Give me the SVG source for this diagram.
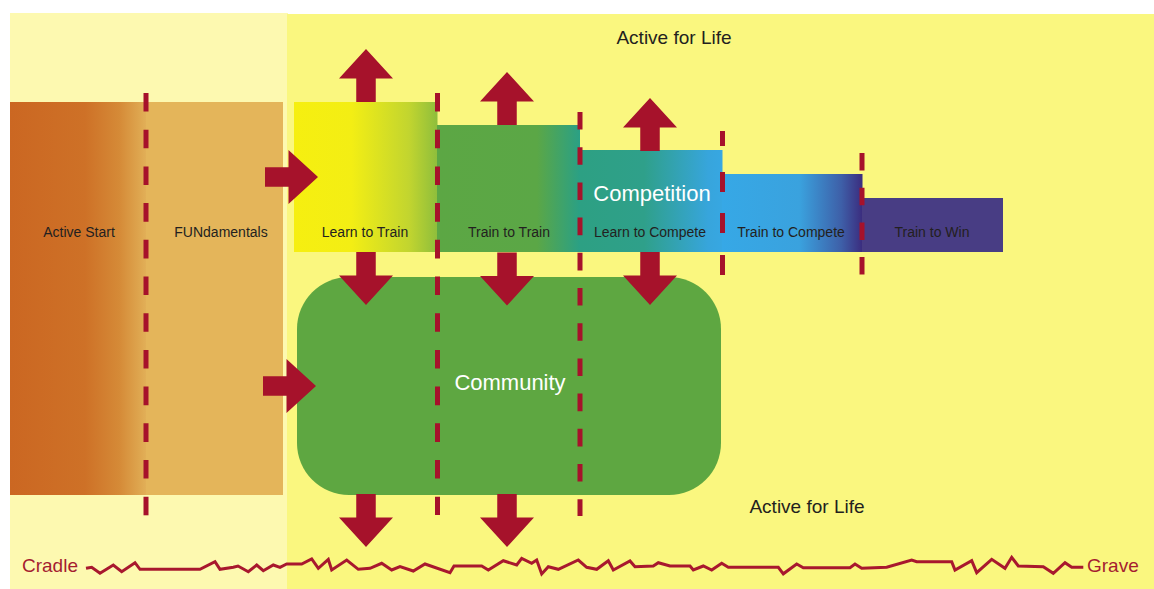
<svg xmlns="http://www.w3.org/2000/svg" xmlns:xlink="http://www.w3.org/1999/xlink" width="1154" height="589" viewBox="0 0 1154 589">
<style>
.lbl{font-family:"Liberation Sans",Arial,sans-serif;font-size:14px;fill:#231F20;text-anchor:middle}
.big{font-family:"Liberation Sans",Arial,sans-serif;font-size:22px;fill:#FFFFFF;text-anchor:middle}
.afl{font-family:"Liberation Sans",Arial,sans-serif;font-size:19px;fill:#231F20;text-anchor:middle}
.cg{font-family:"Liberation Sans",Arial,sans-serif;font-size:19px;fill:#A51C30}
.arrow{fill:#A6122B}
.dash{fill:#A6122B}
.wave{fill:none;stroke:#A8182E;stroke-width:3;stroke-linejoin:miter}
</style>
<defs>
<linearGradient id="gAS" x1="0" x2="1" y1="0" y2="0">
<stop offset="0" stop-color="#CB6722"/>
<stop offset="0.55" stop-color="#CE7127"/>
<stop offset="0.8" stop-color="#D58A37"/>
<stop offset="0.95" stop-color="#DEA64F"/>
<stop offset="1" stop-color="#E2B058"/>
</linearGradient>
<linearGradient id="gLT" x1="0" x2="1" y1="0" y2="0">
<stop offset="0" stop-color="#F6EF10"/>
<stop offset="0.4" stop-color="#F3EE14"/>
<stop offset="0.8" stop-color="#C2D52F"/>
<stop offset="1" stop-color="#8EBE3C"/>
</linearGradient>
<linearGradient id="gTT" x1="0" x2="1" y1="0" y2="0">
<stop offset="0" stop-color="#5CA744"/>
<stop offset="0.7" stop-color="#5BA746"/>
<stop offset="1" stop-color="#2AA085"/>
</linearGradient>
<linearGradient id="gLC" x1="0" x2="1" y1="0" y2="0">
<stop offset="0" stop-color="#2DA083"/>
<stop offset="0.45" stop-color="#2FA08A"/>
<stop offset="0.9" stop-color="#37A5DC"/>
<stop offset="1" stop-color="#37A7E2"/>
</linearGradient>
<linearGradient id="gTC" x1="0" x2="1" y1="0" y2="0">
<stop offset="0" stop-color="#36A8E6"/>
<stop offset="0.55" stop-color="#3AA2DE"/>
<stop offset="0.85" stop-color="#3E5FA8"/>
<stop offset="1" stop-color="#3B2C7E"/>
</linearGradient>
<path id="arr" d="M0,0 L27,29.5 L9.75,29.5 L9.75,53 L-9.75,53 L-9.75,29.5 L-27,29.5 Z"/>
</defs>

<rect x="0" y="0" width="1154" height="589" fill="#FFFFFF"/>
<rect x="10" y="13" width="278" height="576" fill="#FDF9B0"/>
<rect x="287" y="14" width="867" height="575" fill="#FAF77F"/>

<g id="active-start"><rect x="10" y="102" width="136.5" height="393" fill="url(#gAS)"/><text class="lbl" x="79" y="237">Active Start</text></g>
<g id="fundamentals"><rect x="146" y="102" width="137" height="393" fill="#E4B55A"/><text class="lbl" x="221" y="237">FUNdamentals</text></g>
<g id="learn-to-train"><rect x="294" y="102" width="143.5" height="150" fill="url(#gLT)"/><text class="lbl" x="365" y="237">Learn to Train</text></g>
<g id="train-to-train"><rect x="437" y="125" width="143" height="127" fill="url(#gTT)"/><text class="lbl" x="509" y="237">Train to Train</text></g>
<g id="learn-to-compete"><rect x="580" y="150" width="142.5" height="102" fill="url(#gLC)"/><text class="lbl" x="650" y="237">Learn to Compete</text></g>
<g id="train-to-compete"><rect x="722" y="174" width="140.5" height="78" fill="url(#gTC)"/><text class="lbl" x="791" y="237">Train to Compete</text></g>
<g id="train-to-win"><rect x="862" y="198" width="141" height="54" fill="#483D84"/><text class="lbl" x="932" y="237">Train to Win</text></g>
<g id="competition"><text class="big" x="652" y="200.5">Competition</text></g>
<g id="community"><rect x="297" y="277" width="424" height="218" rx="52" ry="52" fill="#5EA741"/><text class="big" x="510" y="390">Community</text></g>
<g id="active-for-life-top"><text class="afl" x="674" y="44">Active for Life</text></g>
<g id="active-for-life-bottom"><text class="afl" x="807" y="513">Active for Life</text></g>

<g id="dividers">
<line x1="146" y1="93" x2="146" y2="517" stroke="#A6122B" stroke-width="5" stroke-dasharray="18.6 18.1"/>
<line x1="437.5" y1="93" x2="437.5" y2="515" stroke="#A6122B" stroke-width="5" stroke-dasharray="18.6 18.1"/>
<line x1="580" y1="112" x2="580" y2="516" stroke="#A6122B" stroke-width="5" stroke-dasharray="17.6 17.6"/>
<rect class="dash" x="720" y="131" width="5" height="15"/>
<rect class="dash" x="720" y="172" width="5" height="20"/>
<rect class="dash" x="720" y="213" width="5" height="20"/>
<rect class="dash" x="720" y="255" width="5" height="20"/>
<line x1="862" y1="153" x2="862" y2="275" stroke="#A6122B" stroke-width="5" stroke-dasharray="17.5 17.2"/>
</g>

<g id="connectors">
<use href="#arr" class="arrow" transform="translate(366,49)"/>
<use href="#arr" class="arrow" transform="translate(507,72)"/>
<use href="#arr" class="arrow" transform="translate(650,98)"/>
<use href="#arr" class="arrow" transform="translate(318,177) rotate(90)"/>
<use href="#arr" class="arrow" transform="translate(316,386) rotate(90)"/>
<use href="#arr" class="arrow" transform="translate(366,305) rotate(180)"/>
<use href="#arr" class="arrow" transform="translate(507,305.5) rotate(180)"/>
<use href="#arr" class="arrow" transform="translate(650,305) rotate(180)"/>
<use href="#arr" class="arrow" transform="translate(366,547) rotate(180)"/>
<use href="#arr" class="arrow" transform="translate(507,547) rotate(180)"/>
</g>

<g id="lifeline">
<polyline class="wave" points="86,568.3 91.7,567.3 100,573.3 113.3,565 121.7,571.7 135,562.7 140,569.3 200,569.3 215,561.7 220,569.3 233.3,567.3 238,566 248.3,571.7 256.7,565 263.3,570.7 273.3,565 280,567.3 286.7,564 301.7,564 311.7,559 318.3,568.3 328.3,559.3 331.7,570 346.7,560 358.3,569.3 370,568.3 381.7,563.3 391.7,570 400,566.5 413.3,571 425,564 450,572.7 454,566 481.7,566 488.3,570 503.3,560.7 516.7,565 521.7,558.3 531.7,563.3 536.7,560 541.7,574 548.3,566.7 558.3,569.3 578.3,560 586.7,567.3 596.7,569.3 608.3,560.7 613.3,570 630,561 635,566.7 653.3,566 658.3,562.7 670,566 690,566 693.3,570 703.3,566 711.7,570 721.7,563.3 728.3,567.3 778.3,567.3 783.3,573.8 796.7,564 803.3,567.7 850,567.7 855,564 861.7,568.3 886.7,567.3 911.7,560 916.7,561.7 951.7,561.7 955,570 971.7,560.7 976.7,572.7 991.7,559.3 1005,568.3 1011.7,557.3 1018.3,566 1043.3,566.7 1053.3,573.3 1065,562.7 1071.7,567.3 1083.3,567.3"/>
<text class="cg" x="22" y="572">Cradle</text>
<text class="cg" x="1087" y="572">Grave</text>
</g>
</svg>
